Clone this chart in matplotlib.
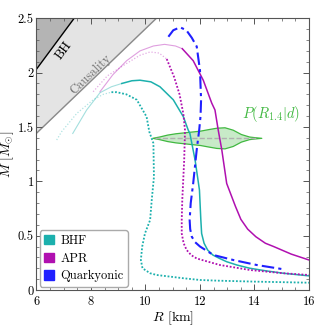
import numpy as np
import matplotlib
matplotlib.use("Agg")
import matplotlib.pyplot as plt
from matplotlib.patches import Patch
from matplotlib.ticker import MultipleLocator, FormatStrFormatter

plt.rcParams['font.family'] = 'serif'
plt.rcParams['font.serif'] = ['cmr10']
plt.rcParams['mathtext.fontset'] = 'cm'
plt.rcParams['axes.formatter.use_mathtext'] = True

# M-R curves (R in km, M in solar masses)
# "light" parts = faded branches near the maximum mass
bhf_solid_light_R = [7.33, 7.84, 8.33, 8.75, 9.13]
bhf_solid_light_M = [1.44, 1.656, 1.815, 1.87, 1.90]
bhf_solid_R = [9.13, 9.5, 9.8, 10.2, 10.53, 11.02, 11.39, 11.57, 11.63, 11.82, 11.98, 12.03, 12.06,
               12.15, 12.28, 12.47, 12.72, 12.98, 13.35, 13.83, 14.45, 15.06, 16.0]
bhf_solid_M = [1.90, 1.925, 1.93, 1.915, 1.87, 1.75, 1.594, 1.47, 1.44, 1.196, 0.92, 0.65, 0.52,
               0.43, 0.368, 0.322, 0.29, 0.26, 0.23, 0.20, 0.175, 0.154, 0.13]

bhf_dot_light_R = [6.74, 6.92, 7.48, 8.08, 8.45, 8.75]
bhf_dot_light_M = [1.38, 1.456, 1.625, 1.75, 1.80, 1.82]
bhf_dot_R = [8.75, 8.94, 9.3, 9.68, 10.04, 10.14, 10.29, 10.3, 10.31, 10.23, 10.17, 9.98, 9.88,
             9.83, 9.89, 10.17, 10.41, 11.39, 12.0, 12.61, 14.0, 16.0]
bhf_dot_M = [1.82, 1.82, 1.80, 1.75, 1.594, 1.456, 1.35, 1.2, 1.04, 0.83, 0.644, 0.52, 0.4,
             0.276, 0.2, 0.154, 0.138, 0.108, 0.092, 0.086, 0.077, 0.067]

apr_solid_light_R = [8.33, 8.8, 9.31, 9.8, 10.29, 10.7, 11.1, 11.35]
apr_solid_light_M = [1.824, 1.98, 2.11, 2.20, 2.245, 2.26, 2.245, 2.22]
apr_solid_R = [11.35, 11.75, 12.12, 12.43, 12.55, 12.67, 12.8, 12.98, 13.3, 13.5, 13.75, 14.05,
               14.4, 14.7, 15.35, 16.0]
apr_solid_M = [2.22, 2.11, 1.93, 1.72, 1.656, 1.47, 1.29, 0.98, 0.77, 0.65, 0.56, 0.49,
               0.43, 0.40, 0.33, 0.276]

apr_dot_light_R = [8.08, 8.6, 9.31, 9.8, 10.17, 10.5, 10.78]
apr_dot_light_M = [1.824, 1.97, 2.085, 2.16, 2.19, 2.18, 2.125]
apr_dot_R = [10.78, 11.05, 11.25, 11.39, 11.45, 11.42, 11.35, 11.33, 11.33, 11.4, 11.51, 11.68, 11.88,
             12.3, 12.73, 13.83, 15.06, 16.0]
apr_dot_M = [2.125, 1.96, 1.8, 1.62, 1.47, 1.196, 0.83, 0.644, 0.52, 0.43, 0.368, 0.32, 0.29,
             0.26, 0.23, 0.184, 0.154, 0.138]

qk_R = [10.84, 11.02, 11.27, 11.5, 11.7, 11.88, 12.0, 12.04, 12.02, 11.97, 11.88, 11.75, 11.66,
        11.62, 11.64, 11.7, 11.82, 12.0, 12.49, 13.22, 14.08, 15.0]
qk_M = [2.33, 2.39, 2.417, 2.39, 2.32, 2.24, 2.02, 1.75, 1.6, 1.47, 1.29, 0.98, 0.8,
        0.644, 0.56, 0.49, 0.44, 0.4, 0.322, 0.276, 0.23, 0.193]

# radius posterior at 1.4 Msun (half width of the violin)
post_R = [10.25, 10.5, 10.8, 11.1, 11.4, 11.7, 12.0, 12.3, 12.6, 12.9, 13.2, 13.5, 13.8, 14.0, 14.25]
post_hw = [0.0, 0.012, 0.03, 0.042, 0.05, 0.058, 0.066, 0.08, 0.093, 0.097, 0.075, 0.035, 0.012, 0.006, 0.0]
post_M = 1.4

bh_ratio = 2.953       # R / M on the black hole limit
causal_ratio = 4.16    # R / M on the causality limit

c_bhf = '#1cb0ad'
c_apr = '#b010b0'
c_qk = '#2020ff'
c_green = '#40b840'

fig = plt.figure(figsize=(3.16, 3.28), dpi=100)
ax = fig.add_axes([0.1155, 0.1159, 0.8623, 0.8284])

Rg = np.linspace(6, 16, 400)
ax.fill_between(Rg, Rg / causal_ratio, 2.5, color='#e4e4e4', zorder=0, lw=0)
ax.plot(Rg, Rg / causal_ratio, color='#8a8a8a', lw=1.0, zorder=1)
ax.fill_between(Rg, Rg / bh_ratio, 2.5, color='#b4b4b4', zorder=0.5, lw=0)
ax.plot(Rg, Rg / bh_ratio, color='black', lw=1.0, zorder=1)
ax.text(7.02, 2.2, 'BH', rotation=53.5, ha='center', va='center', fontsize=9.5)
ax.text(7.98, 1.985, 'Causality', rotation=44, ha='center', va='center', fontsize=9, color='#707070')

# faded branches
ax.plot(bhf_solid_light_R, bhf_solid_light_M, color=c_bhf, lw=0.8, alpha=0.4)
ax.plot(bhf_dot_light_R, bhf_dot_light_M, color=c_bhf, lw=0.9, ls=(0, (1, 1.5)), alpha=0.35)
ax.plot(apr_solid_light_R, apr_solid_light_M, color=c_apr, lw=0.8, alpha=0.4)
ax.plot(apr_dot_light_R, apr_dot_light_M, color=c_apr, lw=0.9, ls=(0, (1, 1.5)), alpha=0.35)

# posterior violin
pr = np.array(post_R)
ph = np.array(post_hw)
ax.fill_between(pr, post_M - ph, post_M + ph, facecolor='#c8eac8', edgecolor=c_green, lw=0.9, zorder=2)
ax.plot([pr[0] + 0.1, pr[-1] - 0.15], [post_M, post_M], color='#b0b0b0', ls='--', lw=1.0, zorder=2.5)
ax.text(14.6, 1.62, r'$P(R_{1.4}|d)$', color=c_green, fontsize=10.5, ha='center', va='center')

ax.plot(bhf_solid_R, bhf_solid_M, color=c_bhf, lw=1.1, zorder=3)
ax.plot(bhf_dot_R, bhf_dot_M, color=c_bhf, lw=1.3, ls=(0, (1, 1)), zorder=3)
ax.plot(apr_solid_R, apr_solid_M, color=c_apr, lw=1.1, zorder=3)
ax.plot(apr_dot_R, apr_dot_M, color=c_apr, lw=1.3, ls=(0, (1, 1)), zorder=3)
ax.plot(qk_R, qk_M, color=c_qk, lw=1.5, ls=(0, (6, 2, 1.5, 2)), zorder=3)

ax.set_xlim(6, 16)
ax.set_ylim(0, 2.5)
ax.xaxis.set_major_locator(MultipleLocator(2))
ax.xaxis.set_minor_locator(MultipleLocator(0.5))
ax.yaxis.set_major_locator(MultipleLocator(0.5))
ax.yaxis.set_minor_locator(MultipleLocator(0.1))
ax.yaxis.set_major_formatter(FormatStrFormatter('%g'))
ax.xaxis.set_major_formatter(FormatStrFormatter('%g'))
ax.tick_params(which='both', direction='in', top=True, right=True, labelsize=9, color='#555555')
ax.tick_params(which='major', length=4, width=0.7)
ax.tick_params(which='minor', length=2, width=0.5)
ax.tick_params(axis='y', pad=2)
ax.tick_params(axis='x', pad=4)
for s in ax.spines.values():
    s.set_color('#555555')
    s.set_linewidth(0.8)

ax.set_xlabel(r'$R$ [km]', fontsize=10, labelpad=1)
ax.set_ylabel(r'$M\ [M_{\odot}]$', fontsize=10, labelpad=1)

handles = [Patch(facecolor=c_bhf, edgecolor=c_bhf, label='BHF'),
           Patch(facecolor=c_apr, edgecolor=c_apr, label='APR'),
           Patch(facecolor=c_qk, edgecolor=c_qk, label='Quarkyonic')]
leg = ax.legend(handles=handles, loc='lower left', fontsize=9, handlelength=0.8, handleheight=0.8,
                handletextpad=0.5, borderaxespad=0.25, labelspacing=0.45, borderpad=0.35, framealpha=1,
                fancybox=True)
leg.get_frame().set_edgecolor('#aaaaaa')

fig.savefig('out.png', dpi=100)
